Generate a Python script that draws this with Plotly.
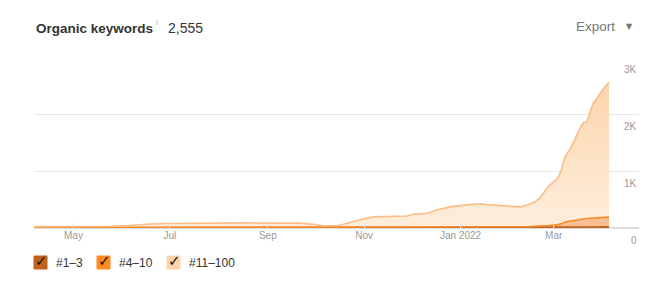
import plotly.graph_objects as go

dates = ["2021-04-06","2021-05-01","2021-05-24","2021-06-06","2021-06-18","2021-07-01",
         "2021-07-20","2021-08-18","2021-09-09","2021-09-21","2021-09-30","2021-10-06",
         "2021-10-16","2021-10-22","2021-10-30","2021-11-07","2021-11-17","2021-11-28",
         "2021-12-02","2021-12-11","2021-12-17","2021-12-26","2022-01-05","2022-01-14",
         "2022-01-20","2022-01-31","2022-02-08","2022-02-14","2022-02-17","2022-02-20",
         "2022-02-23","2022-02-26","2022-03-02","2022-03-04","2022-03-06","2022-03-08",
         "2022-03-12","2022-03-15","2022-03-18","2022-03-20","2022-03-22","2022-03-24",
         "2022-03-26","2022-03-29","2022-04-01","2022-04-05"]
pos_1_3 = [5,5,5,5,5,5,5,5,5,5,5,5,5,6,6,7,7,7,7,8,8,8,8,8,8,9,9,10,10,11,11,12,12,13,13,14,
           15,15,16,16,17,17,18,18,19,20]
pos_4_10 = [5,5,5,5,5,6,6,6,6,6,6,5,5,6,7,7,8,8,8,8,9,9,10,10,10,11,12,14,16,20,25,32,42,50,
            60,90,110,125,140,145,150,155,158,162,165,170]
pos_11_100 = [15,15,20,35,60,69,74,79,74,74,54,30,35,83,137,181,185,195,225,244,298,358,387,407,
              387,370,349,396,434,489,584,696,776,837,962,1136,1290,1450,1614,1694,1688,1863,
              2014,2120,2246,2365]

series_names = ["#1–3", "#4–10", "#11–100"]
tick_dates = ["2021-05-01","2021-07-01","2021-09-01","2021-11-01","2022-01-01","2022-03-01"]
tick_labels = ["May","Jul","Sep","Nov","Jan 2022","Mar"]
y_ticks = [0, 1000, 2000, 3000]
y_labels = ["0", "1K", "2K", "3K"]
title_text = "Organic keywords"
total_text = "2,555"

FONT = "Liberation Sans, Arial, sans-serif"
line_colors = ["#c0621a", "#f7892c", "#fbbd85"]
fill_colors = ["rgba(192,98,26,0.85)", "rgba(250,170,110,0.75)", "rgba(253,222,190,0.75)"]
box_colors = ["#c0621a", "#ff8a24", "#ffd3a8"]

fig = go.Figure()
for name, vals, lc, fc in zip(series_names, [pos_1_3, pos_4_10, pos_11_100], line_colors, fill_colors):
    kw = {}
    if name == "#11–100":
        kw["fillgradient"] = dict(type="vertical", start=0, stop=2600,
                                  colorscale=[[0, "rgba(254,236,216,0.9)"], [1, "rgba(252,210,166,0.95)"]])
    else:
        kw["fillcolor"] = fc
    fig.add_trace(go.Scatter(x=dates, y=vals, name=name, mode="lines", stackgroup="one",
                             line=dict(color=lc, width=1.6), hoverinfo="skip", **kw))

W, H = 660, 288
L, R, T, B = 34, 639, 57, 228
def px(x):
    return (x - L) / (R - L)
def py(y):
    return (B - y) / (B - T)

fig.update_layout(
    width=W, height=H,
    margin=dict(l=L, r=W - R, t=T, b=H - B),
    paper_bgcolor="white", plot_bgcolor="white",
    showlegend=False,
    font=dict(family=FONT, color="#999"),
    xaxis=dict(type="date", range=["2021-04-06", "2022-04-24"],
               tickvals=tick_dates, ticktext=tick_labels,
               tickfont=dict(size=10, color="#999"),
               ticks="inside", ticklen=5, tickcolor="#e2e2e2",
               showgrid=False, zeroline=False, showline=False),
    yaxis=dict(range=[0, 3000], tickvals=y_ticks, showticklabels=False,
               showgrid=True, gridcolor="#e8e8e8", gridwidth=1,
               zeroline=True, zerolinecolor="#dcdcdc", zerolinewidth=1.5),
)

# y tick labels below-right of gridlines
for v, t in zip(y_ticks, y_labels):
    fig.add_annotation(x=1, xref="paper", y=v, yref="y", text=t, showarrow=False,
                       xanchor="right", yanchor="middle", yshift=-12,
                       font=dict(size=10, color="#999", family=FONT))

# header
fig.add_annotation(x=px(34), y=py(28), xref="paper", yref="paper", text="<b>" + title_text + "</b>",
                   showarrow=False, xanchor="left", yanchor="middle",
                   font=dict(size=13.5, color="#333", family=FONT))
fig.add_annotation(x=px(154), y=py(23), xref="paper", yref="paper", text="i",
                   showarrow=False, xanchor="left", yanchor="middle",
                   font=dict(size=8, color="#aaa", family=FONT))
fig.add_annotation(x=px(166), y=py(28), xref="paper", yref="paper", text=total_text,
                   showarrow=False, xanchor="left", yanchor="middle",
                   font=dict(size=14, color="#333", family=FONT))
fig.add_annotation(x=px(617), y=py(27), xref="paper", yref="paper", text="Export",
                   showarrow=False, xanchor="right", yanchor="middle",
                   font=dict(size=13.5, color="#777", family=FONT))
fig.add_annotation(x=px(629), y=py(27), xref="paper", yref="paper", text="▼",
                   showarrow=False, xanchor="center", yanchor="middle",
                   font=dict(size=8, color="#777", family="DejaVu Sans"))

# custom checkbox legend
box_x = [34, 97, 167]
for bx, name, bc in zip(box_x, series_names, box_colors):
    fig.add_shape(type="rect", xref="paper", yref="paper",
                  x0=px(bx), x1=px(bx + 13), y0=py(269), y1=py(256),
                  fillcolor=bc, line=dict(color=bc, width=1), layer="above")
    fig.add_annotation(x=px(bx + 7), y=py(261), xref="paper", yref="paper", text="<b>✓</b>",
                       showarrow=False, xanchor="center", yanchor="middle",
                       font=dict(size=15, color="#111", family="DejaVu Sans"))
    fig.add_annotation(x=px(bx + 20), y=py(263), xref="paper", yref="paper", text=name,
                       showarrow=False, xanchor="left", yanchor="middle",
                       font=dict(size=12, color="#333", family=FONT))

fig.write_html("out.html")
